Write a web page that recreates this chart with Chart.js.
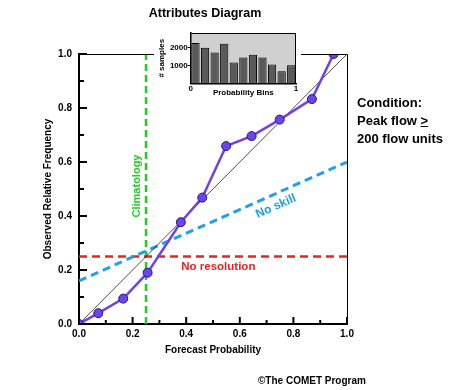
<!DOCTYPE html>
<html lang="en">
<head>
    <meta charset="UTF-8">
    <title>Attributes Diagram</title>
    <script src="https://cdn.jsdelivr.net/npm/chart.js"></script>
    <style>
        body {
            margin: 0;
            background: #fff;
            font-family: "Liberation Sans", Arial, sans-serif;
        }
        #wrap {
            position: relative;
            width: 458px;
            height: 390px;
        }
        #main {
            position: absolute;
            left: 0;
            top: 0;
        }
        #inset {
            position: absolute;
            left: 154px;
            top: 24px;
            background: #fff;
        }
        .note {
            position: absolute;
            font-weight: bold;
            color: #000;
            white-space: nowrap;
        }
        #condition {
            left: 357px;
            top: 94px;
            font-size: 13px;
            line-height: 18px;
        }
        #credit {
            left: 258px;
            top: 375px;
            font-size: 10px;
            line-height: 12px;
        }
    </style>
</head>
<body>
    <div id="wrap">
        <canvas id="main" width="458" height="390"></canvas>
        <canvas id="inset" width="147" height="75"></canvas>
        <div id="condition" class="note">Condition:<br>Peak flow <u>&gt;</u><br>200 flow units</div>
        <div id="credit" class="note">&copy;The COMET Program</div>
    </div>

    <script>
        // reliability curve
        const forecastProb = [0, 0.072, 0.165, 0.256, 0.38, 0.46, 0.549, 0.644, 0.749, 0.869, 0.95];
        const observedFreq = [0, 0.04, 0.094, 0.19, 0.377, 0.468, 0.659, 0.696, 0.757, 0.833, 1.0];
        const climatology = 0.25;
        const noSkill = [0.16, 0.6];        // y at x=0 and x=1
        const axisRange = [0, 1];
        // inset histogram
        const binLabels = ['0', '1', '2', '3', '4', '5', '6', '7', '8', '9', '10'];
        const binCounts = [2250, 1980, 1720, 2200, 1170, 1440, 1600, 1440, 1060, 680, 1010];
        const binTicks = [1000, 2000];

        Chart.defaults.font.family = '"Liberation Sans", Arial, sans-serif';
        Chart.defaults.color = '#000';

        const GREEN = '#22cc22', RED = '#ee2020', BLUE = '#1e9ff0', PURPLE = '#6f42e8';

        // tick marks drawn inside the plot, long ones at labelled ticks
        const innerTicks = {
            id: 'innerTicks',
            afterDraw(chart) {
                const {ctx, chartArea: a, scales: {x, y}} = chart;
                ctx.save();
                ctx.strokeStyle = '#000';
                ctx.lineWidth = 2;
                x.ticks.forEach(t => {
                    const px = x.getPixelForValue(t.value);
                    const len = Math.round(t.value * 10) % 2 ? 4 : 7;
                    ctx.beginPath();
                    ctx.moveTo(px, a.bottom);
                    ctx.lineTo(px, a.bottom - len);
                    ctx.stroke();
                });
                y.ticks.forEach(t => {
                    const py = y.getPixelForValue(t.value);
                    const len = Math.round(t.value * 10) % 2 ? 5 : 8;
                    ctx.beginPath();
                    ctx.moveTo(a.left, py);
                    ctx.lineTo(a.left + len, py);
                    ctx.stroke();
                });
                // thin frame on top and right
                ctx.lineWidth = 1;
                ctx.beginPath();
                ctx.moveTo(a.left, a.top + 0.5);
                ctx.lineTo(a.right + 0.5, a.top + 0.5);
                ctx.lineTo(a.right + 0.5, a.bottom);
                ctx.stroke();
                ctx.restore();
            }
        };

        // text on the reference lines
        const lineLabels = {
            id: 'lineLabels',
            afterDatasetsDraw(chart) {
                const {ctx, scales: {x, y}} = chart;
                ctx.save();
                ctx.textAlign = 'center';
                ctx.textBaseline = 'middle';
                ctx.font = 'bold 11px "Liberation Sans", Arial, sans-serif';

                ctx.save();
                ctx.fillStyle = GREEN;
                ctx.translate(x.getPixelForValue(climatology) - 9, y.getPixelForValue(0.5) - 3);
                ctx.rotate(-Math.PI / 2);
                ctx.fillText('Climatology', 0, 0);
                ctx.restore();

                ctx.fillStyle = RED;
                ctx.font = 'bold 11.5px "Liberation Sans", Arial, sans-serif';
                ctx.fillText('No resolution', x.getPixelForValue(0.52), y.getPixelForValue(climatology) + 10);

                ctx.save();
                const x0 = x.getPixelForValue(0), y0 = y.getPixelForValue(noSkill[0]);
                const x1 = x.getPixelForValue(1), y1 = y.getPixelForValue(noSkill[1]);
                const xm = x.getPixelForValue(0.72);
                const ym = y.getPixelForValue(noSkill[0] + (noSkill[1] - noSkill[0]) * 0.72);
                ctx.fillStyle = BLUE;
                ctx.font = 'bold 12px "Liberation Sans", Arial, sans-serif';
                ctx.translate(xm + 4, ym + 11);
                ctx.rotate(Math.atan2(y1 - y0, x1 - x0));
                ctx.fillText('No skill', 0, 0);
                ctx.restore();

                ctx.restore();
            }
        };

        const tickFont = {size: 10, weight: 'bold'};
        const labelEven = v => (Math.round(v * 10) % 2 === 0 ? v.toFixed(1) : '');

        new Chart(document.getElementById('main'), {
            type: 'scatter',
            data: {
                datasets: [
                    {
                        label: 'Reliability',
                        data: forecastProb.map((p, i) => ({x: p, y: observedFreq[i]})),
                        showLine: true,
                        borderColor: PURPLE,
                        borderWidth: 2.5,
                        pointRadius: 4.5,
                        pointBackgroundColor: '#6a46f0',
                        pointBorderColor: '#2a1470',
                        pointBorderWidth: 1
                    },
                    {
                        label: 'Perfect',
                        data: [{x: axisRange[0], y: axisRange[0]}, {x: axisRange[1], y: axisRange[1]}],
                        showLine: true,
                        borderColor: '#222',
                        borderWidth: 0.8,
                        pointRadius: 0
                    },
                    {
                        label: 'No skill',
                        data: [{x: axisRange[0], y: noSkill[0]}, {x: axisRange[1], y: noSkill[1]}],
                        showLine: true,
                        borderColor: BLUE,
                        borderWidth: 3,
                        borderDash: [8, 5],
                        pointRadius: 0
                    },
                    {
                        label: 'No resolution',
                        data: [{x: axisRange[0], y: climatology}, {x: axisRange[1], y: climatology}],
                        showLine: true,
                        borderColor: RED,
                        borderWidth: 2.5,
                        borderDash: [8, 5],
                        pointRadius: 0
                    },
                    {
                        label: 'Climatology',
                        data: [{x: climatology, y: axisRange[0]}, {x: climatology, y: axisRange[1]}],
                        showLine: true,
                        borderColor: GREEN,
                        borderWidth: 2.5,
                        borderDash: [7, 4],
                        pointRadius: 0
                    }
                ]
            },
            options: {
                responsive: false,
                animation: false,
                layout: {padding: {top: 54, right: 111, left: 0, bottom: 0}},
                plugins: {
                    legend: {display: false},
                    tooltip: {enabled: false}
                },
                scales: {
                    x: {
                        type: 'linear',
                        min: axisRange[0],
                        max: axisRange[1],
                        afterFit: s => { s.height = 66; },
                        grid: {display: false, drawTicks: false},
                        border: {display: true, color: '#000', width: 2},
                        ticks: {stepSize: 0.1, padding: 4, maxRotation: 0, autoSkip: false, font: tickFont, callback: labelEven},
                        title: {display: true, text: 'Forecast Probability', font: tickFont, padding: {top: 0, bottom: 34}}
                    },
                    y: {
                        type: 'linear',
                        min: axisRange[0],
                        max: axisRange[1],
                        afterFit: s => { s.width = 79; },
                        grid: {display: false, drawTicks: false},
                        border: {display: true, color: '#000', width: 2},
                        ticks: {stepSize: 0.1, padding: 7, autoSkip: false, font: tickFont, callback: labelEven},
                        title: {display: true, text: 'Observed Relative Frequency', font: tickFont, padding: {top: 42, bottom: 0}}
                    }
                }
            },
            plugins: [innerTicks, lineLabels, {
                id: 'mainTitle',
                afterDraw(chart) {
                    const ctx = chart.ctx;
                    ctx.save();
                    ctx.font = 'bold 12.5px "Liberation Sans", Arial, sans-serif';
                    ctx.textAlign = 'center';
                    ctx.textBaseline = 'middle';
                    ctx.fillStyle = '#000';
                    ctx.fillText('Attributes Diagram', 205, 14);
                    ctx.restore();
                }
            }]
        });

        // gray panel behind the histogram
        const insetFrame = {
            id: 'insetFrame',
            beforeDraw(chart) {
                const {ctx, chartArea: a} = chart;
                ctx.save();
                ctx.fillStyle = '#d0d0d0';
                ctx.fillRect(a.left, a.top, a.right - a.left, a.bottom - a.top);
                ctx.restore();
            },
            afterDraw(chart) {
                const {ctx, chartArea: a} = chart;
                ctx.save();
                ctx.strokeStyle = '#000';
                ctx.lineWidth = 1;
                ctx.beginPath();
                ctx.moveTo(a.left, a.top + 0.5);
                ctx.lineTo(a.right - 0.5, a.top + 0.5);
                ctx.lineTo(a.right - 0.5, a.bottom);
                ctx.stroke();
                ctx.restore();
            }
        };

        const smallFont = {size: 8, weight: 'bold'};

        new Chart(document.getElementById('inset'), {
            type: 'bar',
            data: {
                labels: binLabels,
                datasets: [{
                    data: binCounts,
                    backgroundColor: '#5a5a5a',
                    borderColor: '#000',
                    borderWidth: 1,
                    barPercentage: 0.86,
                    categoryPercentage: 1
                }]
            },
            options: {
                responsive: false,
                animation: false,
                layout: {padding: {top: 9, right: 5, left: 0, bottom: 0}},
                plugins: {
                    legend: {display: false},
                    tooltip: {enabled: false}
                },
                scales: {
                    x: {display: false},
                    xb: {
                        type: 'linear',
                        position: 'bottom',
                        offset: false,
                        min: 0,
                        max: 1,
                        afterFit: s => { s.height = 15.5; },
                        grid: {display: false, drawTicks: false, offset: false},
                        border: {display: true, color: '#000', width: 1.5},
                        ticks: {stepSize: 1, padding: 0, font: smallFont},
                        title: {display: true, text: 'Probability Bins', font: smallFont, padding: {top: 0, bottom: 1}}
                    },
                    y: {
                        min: 0,
                        max: 2800,
                        afterFit: s => { s.width = 36.7; },
                        afterBuildTicks: s => { s.ticks = binTicks.map(v => ({value: v})); },
                        grid: {drawOnChartArea: false, tickLength: 3, tickColor: '#000', tickWidth: 1},
                        border: {display: true, color: '#000', width: 1.5},
                        ticks: {padding: 0, font: smallFont, callback: v => String(v)},
                        title: {display: true, text: '# samples', font: smallFont, padding: {top: 3, bottom: 0}}
                    }
                }
            },
            plugins: [insetFrame]
        });
    </script>
</body>
</html>
